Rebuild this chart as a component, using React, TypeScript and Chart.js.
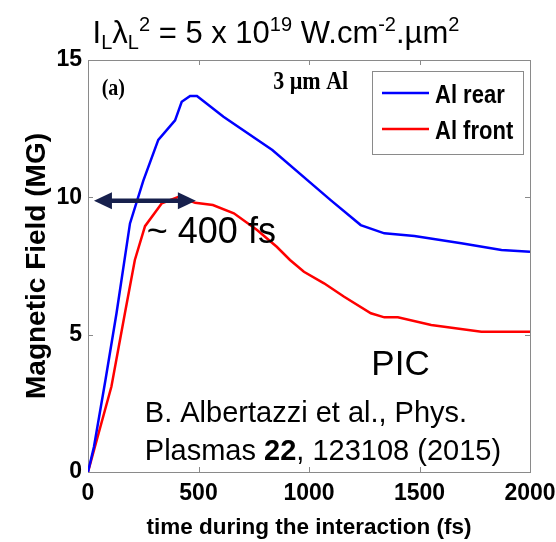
import React, { useEffect, useRef } from "react";
import { Chart, registerables } from "chart.js";

Chart.register(...registerables);

// ---- data ----
const rearTimes = [0, 27, 79, 129, 190, 250, 318, 394, 424, 462, 493, 613, 834, 1098, 1234, 1341, 1477, 1689, 1871, 2000];
const rearField = [0, 0.92, 3.35, 5.78, 9.05, 10.6, 12.09, 12.8, 13.48, 13.69, 13.69, 12.93, 11.72, 9.9, 8.99, 8.69, 8.59, 8.33, 8.08, 8.02];
const frontTimes = [0, 106, 167, 212, 258, 334, 410, 485, 565, 660, 765, 854, 914, 977, 1068, 1159, 1280, 1341, 1402, 1553, 1780, 2000];
const frontField = [0, 3.11, 5.78, 7.72, 8.95, 9.78, 10.02, 9.8, 9.72, 9.42, 8.81, 8.2, 7.72, 7.29, 6.87, 6.38, 5.78, 5.63, 5.63, 5.35, 5.11, 5.11];
const seriesLabels = ["Al rear", "Al front"];
const seriesColors = ["#0000ff", "#ff0000"];
const xTickValues = [0, 500, 1000, 1500, 2000];
const yTickValues = [0, 5, 10, 15];
const arrowTimes = [27, 488];
const arrowLevel = 9.88;

const ARIAL = "'Liberation Sans', Arial, sans-serif";
const SERIF = "'Liberation Serif', 'Times New Roman', serif";

function toPoints(xs: number[], ys: number[]) {
  return xs.map((x, i) => ({ x, y: ys[i] }));
}

function stretchedText(ctx: CanvasRenderingContext2D, text: string, x: number, y: number, font: string, sy: number) {
  ctx.save();
  ctx.translate(x, y);
  ctx.scale(1, sy);
  ctx.font = font;
  ctx.fillText(text, 0, 0);
  ctx.restore();
}

const annotatePlugin = {
  id: "annotate",
  beforeDatasetsDraw(chart: any) {
    const { ctx, chartArea: a, scales } = chart;
    const xs = scales.x;
    const ys = scales.y;
    ctx.save();
    ctx.strokeStyle = "#8a8a8a";
    ctx.lineWidth = 1;
    ctx.strokeRect(Math.round(a.left) + 0.5, Math.round(a.top) + 0.5, Math.round(a.right - a.left), Math.round(a.bottom - a.top));
    const tl = 5;
    ctx.beginPath();
    xTickValues.slice(1, -1).forEach((v) => {
      const px = Math.round(xs.getPixelForValue(v)) + 0.5;
      ctx.moveTo(px, a.top);
      ctx.lineTo(px, a.top + tl);
      ctx.moveTo(px, a.bottom);
      ctx.lineTo(px, a.bottom - tl);
    });
    yTickValues.slice(1, -1).forEach((v) => {
      const py = Math.round(ys.getPixelForValue(v)) + 0.5;
      ctx.moveTo(a.left, py);
      ctx.lineTo(a.left + tl, py);
      ctx.moveTo(a.right, py);
      ctx.lineTo(a.right - tl, py);
    });
    ctx.stroke();
    ctx.restore();
  },
  afterDraw(chart: any) {
    const { ctx, chartArea: a, scales } = chart;
    const xs = scales.x;
    const ys = scales.y;
    const X = (v: number) => xs.getPixelForValue(v);
    const Y = (v: number) => ys.getPixelForValue(v);
    ctx.save();
    ctx.textBaseline = "alphabetic";
    ctx.textAlign = "left";
    ctx.fillStyle = "#000";

    // Title with sub/superscripts
    const segs: [string, number, number][] = [
      ["I", 31, 0],
      ["L", 20, 6],
      ["λ", 31, 0],
      ["L", 20, 6],
      ["2", 20, -12],
      [" = 5 x 10", 31, 0],
      ["19", 20, -12],
      [" W.cm", 31, 0],
      ["-2", 20, -12],
      [".µm", 31, 0],
      ["2", 20, -12],
    ];
    let total = 0;
    const widths = segs.map(([t, s]) => {
      ctx.font = `${s}px ${ARIAL}`;
      const w = ctx.measureText(t).width;
      total += w;
      return w;
    });
    let tx = 276 - total / 2;
    segs.forEach(([t, s, dy], i) => {
      ctx.font = `${s}px ${ARIAL}`;
      ctx.fillText(t, tx, 43 + dy);
      tx += widths[i];
    });

    // (a) and 3 µm Al
    stretchedText(ctx, "(a)", X(62), Y(13.72), `bold 20px ${SERIF}`, 1.15);
    stretchedText(ctx, "3 µm Al", X(838), Y(13.93), `bold 22px ${SERIF}`, 1.15);

    // Legend
    const lw = 151, lh = 83;
    const lx = a.right - 7 - lw;
    const ly = a.top + 11;
    ctx.fillStyle = "#fff";
    ctx.fillRect(lx, ly, lw, lh);
    ctx.strokeStyle = "#8a8a8a";
    ctx.lineWidth = 1;
    ctx.strokeRect(Math.round(lx) + 0.5, Math.round(ly) + 0.5, lw, lh);
    chart.data.datasets.forEach((ds: any, i: number) => {
      const yy = ly + 22 + i * 36;
      ctx.strokeStyle = ds.borderColor;
      ctx.lineWidth = 2.5;
      ctx.beginPath();
      ctx.moveTo(lx + 10, yy);
      ctx.lineTo(lx + 57, yy);
      ctx.stroke();
      ctx.fillStyle = "#000";
      stretchedText(ctx, ds.label, lx + 63, yy + 10, `bold 22px ${ARIAL}`, 1.18);
    });

    // Double arrow
    const ax1 = X(arrowTimes[0]);
    const ax2 = X(arrowTimes[1]);
    const ay = Y(arrowLevel);
    const head = 18, hh = 8.5;
    ctx.strokeStyle = "#17204d";
    ctx.fillStyle = "#17204d";
    ctx.lineWidth = 4.5;
    ctx.beginPath();
    ctx.moveTo(ax1 + head - 2, ay);
    ctx.lineTo(ax2 - head + 2, ay);
    ctx.stroke();
    ctx.beginPath();
    ctx.moveTo(ax1, ay);
    ctx.lineTo(ax1 + head, ay - hh);
    ctx.lineTo(ax1 + head, ay + hh);
    ctx.closePath();
    ctx.fill();
    ctx.beginPath();
    ctx.moveTo(ax2, ay);
    ctx.lineTo(ax2 - head, ay - hh);
    ctx.lineTo(ax2 - head, ay + hh);
    ctx.closePath();
    ctx.fill();

    // Annotations
    ctx.fillStyle = "#000";
    ctx.font = `36px ${ARIAL}`;
    ctx.fillText("~ 400 fs", X(266), Y(8.34));
    ctx.font = `35px ${ARIAL}`;
    ctx.fillText("PIC", X(1282), Y(3.53));

    ctx.font = `29px ${ARIAL}`;
    ctx.fillText("B. Albertazzi et al., Phys.", X(257), Y(1.83));
    let cx = X(257);
    const cy = Y(0.44);
    const parts: [string, boolean][] = [["Plasmas ", false], ["22", true], [", 123108 (2015)", false]];
    parts.forEach(([t, b]) => {
      ctx.font = `${b ? "bold " : ""}29px ${ARIAL}`;
      ctx.fillText(t, cx, cy);
      cx += ctx.measureText(t).width;
    });
    ctx.restore();
  },
};

export default function App() {
  const ref = useRef<HTMLCanvasElement | null>(null);
  useEffect(() => {
    if (!ref.current) return;
    const chart = new Chart(ref.current, {
      type: "line",
      data: {
        datasets: [
          { label: seriesLabels[0], data: toPoints(rearTimes, rearField), borderColor: seriesColors[0], backgroundColor: seriesColors[0], borderWidth: 2.5, pointRadius: 0, tension: 0, fill: false },
          { label: seriesLabels[1], data: toPoints(frontTimes, frontField), borderColor: seriesColors[1], backgroundColor: seriesColors[1], borderWidth: 2.5, pointRadius: 0, tension: 0, fill: false },
        ],
      },
      options: {
        responsive: false,
        animation: false,
        devicePixelRatio: 1,
        layout: { padding: { left: 0, right: 70, top: 60, bottom: 0 } },
        plugins: { legend: { display: false }, tooltip: { enabled: false }, title: { display: false } },
        scales: {
          x: {
            type: "linear",
            min: 0,
            max: 2000,
            afterBuildTicks: (s: any) => { s.ticks = xTickValues.map((v) => ({ value: v })); },
            afterFit: (s: any) => { s.height = 70; },
            grid: { display: false, drawTicks: false },
            border: { display: false },
            ticks: { color: "#000", padding: 8, maxRotation: 0, callback: (v: any) => String(v), font: { family: ARIAL, size: 23, weight: "bold" } },
            title: { display: true, text: "time during the interaction (fs)", color: "#000", padding: { top: 0, bottom: 1 }, font: { family: ARIAL, size: 22.5, weight: "bold" } },
          },
          y: {
            type: "linear",
            min: 0,
            max: 15,
            afterBuildTicks: (s: any) => { s.ticks = yTickValues.map((v) => ({ value: v })); },
            afterFit: (s: any) => { s.width = 88; },
            grid: { display: false, drawTicks: false },
            border: { display: false },
            ticks: { color: "#000", padding: 6, callback: (v: any) => String(v), font: { family: ARIAL, size: 23, weight: "bold" } },
            title: { display: true, text: "Magnetic Field (MG)", color: "#000", padding: { top: 20, bottom: 0 }, font: { family: ARIAL, size: 28, weight: "bold" } },
          },
        },
      },
      plugins: [annotatePlugin],
    } as any);
    return () => chart.destroy();
  }, []);
  return (
    <div style={{ position: "fixed", left: 0, top: 0, width: 556, height: 542, overflow: "hidden", background: "#fff" }}>
      <canvas ref={ref} width={600} height={542} style={{ display: "block" }} />
    </div>
  );
}
